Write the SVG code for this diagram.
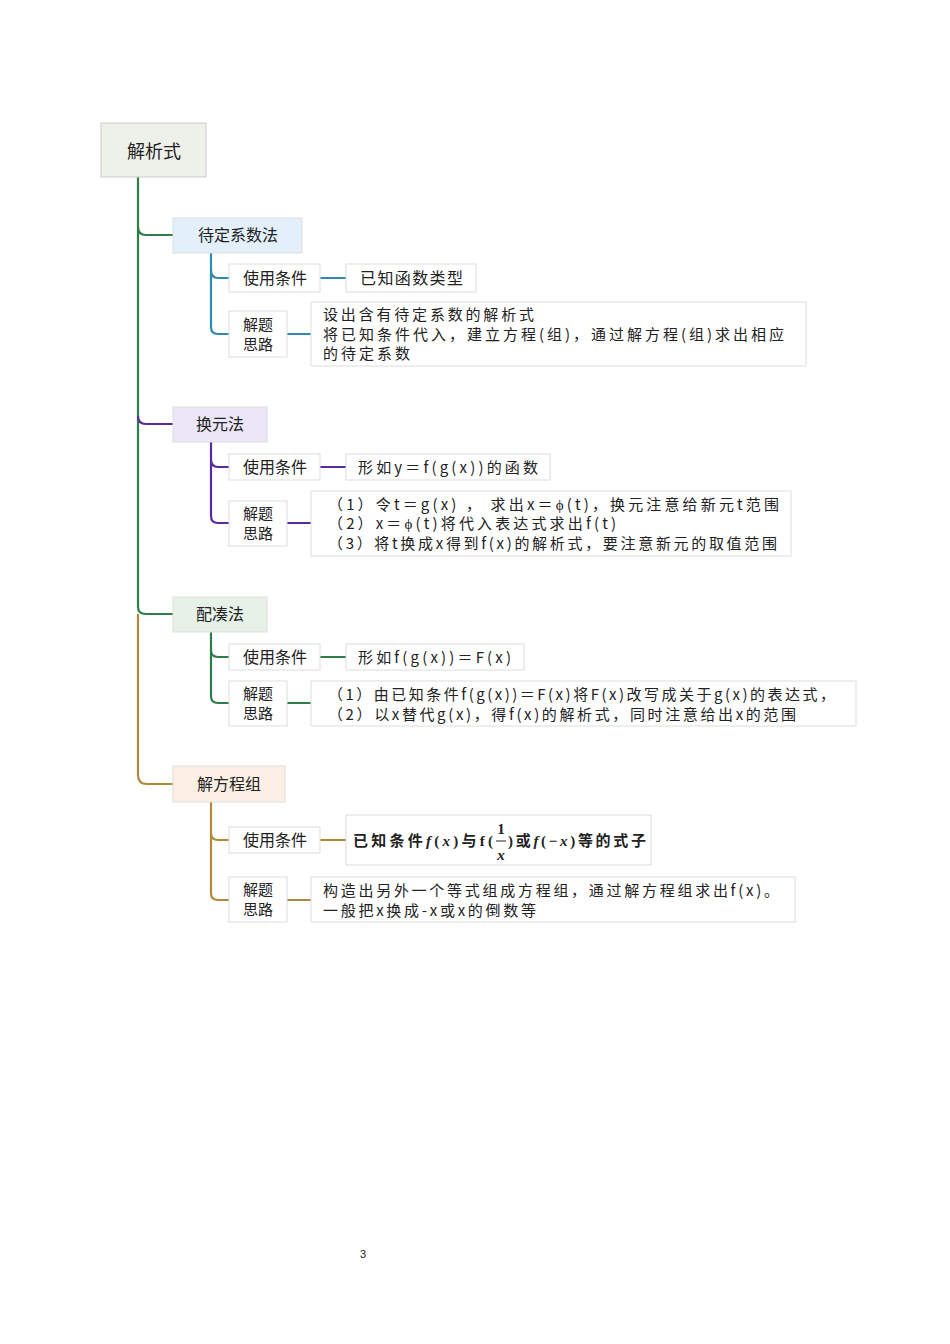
<svg xmlns="http://www.w3.org/2000/svg" width="950" height="1344" viewBox="0 0 950 1344">
<style>
text{font-family:"Noto Sans CJK SC","Liberation Serif",sans-serif;font-size:15px;fill:#222}
.b{fill:#fff;stroke:#ddd;stroke-width:1}
.l{fill:none;stroke-width:2.2}
.bl{stroke:#2e8bb0}.pu{stroke:#5b2a9b}.gr{stroke:#2e7d4a}.br{stroke:#b08a3a}
.m{font-size:15px}
</style>
<rect width="950" height="1344" fill="#fff"/>
<g id="connectors">
<path class="l gr" d="M138 177 V607 Q138 614 146 614 H173"/>
<path class="l gr" d="M138 227 Q138 235 146 235 H173"/>
<path class="l pu" d="M138 416 Q138 424 146 424 H173"/>
<path class="l br" d="M138 614 V775 Q138 784 147 784 H173"/>
<path class="l bl" d="M211 253 V327 Q211 334 218 334 H229 M211 270 Q211 278 218 278 H229 M320 278 H346 M287 334 H311"/>
<path class="l pu" d="M211 442 V516 Q211 523 218 523 H229 M211 459 Q211 467 218 467 H229 M320 467 H346 M287 523 H311"/>
<path class="l gr" d="M211 632 V696 Q211 703 218 703 H229 M211 650 Q211 657 218 657 H229 M320 657 H346 M287 703 H311"/>
<path class="l br" d="M211 802 V893 Q211 900 218 900 H229 M211 833 Q211 840 218 840 H229 M320 840 H346 M287 900 H311"/>
</g>
<g id="root"><rect x="101" y="123" width="105" height="54" fill="#eef0ea" stroke="#ccc"/><text x="154" y="158" text-anchor="middle" style="font-size:18px">解析式</text></g>
<g id="n1"><rect x="173" y="218" width="129" height="35" fill="#e3f0fc" stroke="#ddd"/><text x="238" y="241" text-anchor="middle" style="font-size:16px">待定系数法</text></g>
<g id="n1a"><rect class="b" x="229" y="264" width="91" height="28"/><text x="275" y="284" text-anchor="middle" style="font-size:16px">使用条件</text></g>
<g id="n1b"><rect class="b" x="346" y="264" width="130" height="28"/><text x="360" y="284" textLength="103" lengthAdjust="spacing" style="font-size:16px">已知函数类型</text></g>
<g id="n1c"><rect class="b" x="229" y="311" width="58" height="46"/><text x="258" y="330" text-anchor="middle">解题</text><text x="258" y="350" text-anchor="middle">思路</text></g>
<g id="n1d"><rect class="b" x="311" y="302" width="495" height="64"/><text x="323" y="320" textLength="211" lengthAdjust="spacing">设出含有待定系数的解析式</text><text x="323" y="340" textLength="461" lengthAdjust="spacing">将已知条件代入，建立方程(组)，通过解方程(组)求出相应</text><text x="323" y="359" textLength="87" lengthAdjust="spacing">的待定系数</text></g>
<g id="n2"><rect x="173" y="407" width="94" height="35" fill="#ebe6f8" stroke="#ddd"/><text x="220" y="430" text-anchor="middle" style="font-size:16px">换元法</text></g>
<g id="n2a"><rect class="b" x="229" y="454" width="91" height="26"/><text x="275" y="473" text-anchor="middle" style="font-size:16px">使用条件</text></g>
<g id="n2b"><rect class="b" x="346" y="454" width="204" height="26"/><text x="358" y="473" textLength="180" lengthAdjust="spacing">形如y＝f(g(x))的函数</text></g>
<g id="n2c"><rect class="b" x="229" y="501" width="58" height="45"/><text x="258" y="519" text-anchor="middle">解题</text><text x="258" y="539" text-anchor="middle">思路</text></g>
<g id="n2d"><rect class="b" x="311" y="491" width="480" height="65"/><text x="328" y="510" textLength="451" lengthAdjust="spacing">（1）令t＝g(x) ， 求出x＝ϕ(t)，换元注意给新元t范围</text><text x="328" y="529" textLength="288" lengthAdjust="spacing">（2）x＝ϕ(t)将代入表达式求出f(t)</text><text x="328" y="549" textLength="449" lengthAdjust="spacing">（3）将t换成x得到f(x)的解析式，要注意新元的取值范围</text></g>
<g id="n3"><rect x="173" y="597" width="94" height="35" fill="#e6f1e8" stroke="#ddd"/><text x="220" y="620" text-anchor="middle" style="font-size:16px">配凑法</text></g>
<g id="n3a"><rect class="b" x="229" y="644" width="91" height="26"/><text x="275" y="663" text-anchor="middle" style="font-size:16px">使用条件</text></g>
<g id="n3b"><rect class="b" x="346" y="644" width="178" height="26"/><text x="358" y="663" textLength="153" lengthAdjust="spacing">形如f(g(x))＝F(x)</text></g>
<g id="n3c"><rect class="b" x="229" y="681" width="58" height="45"/><text x="258" y="699" text-anchor="middle">解题</text><text x="258" y="719" text-anchor="middle">思路</text></g>
<g id="n3d"><rect class="b" x="311" y="681" width="545" height="45"/><text x="328" y="700" textLength="507" lengthAdjust="spacing">（1）由已知条件f(g(x))＝F(x)将F(x)改写成关于g(x)的表达式，</text><text x="328" y="720" textLength="468" lengthAdjust="spacing">（2）以x替代g(x)，得f(x)的解析式，同时注意给出x的范围</text></g>
<g id="n4"><rect x="173" y="766" width="112" height="36" fill="#fcefe4" stroke="#ddd"/><text x="229" y="790" text-anchor="middle" style="font-size:16px">解方程组</text></g>
<g id="n4a"><rect class="b" x="229" y="827" width="91" height="26"/><text x="275" y="846" text-anchor="middle" style="font-size:16px">使用条件</text></g>
<g id="n4b"><rect class="b" x="346" y="815" width="305" height="50"/>
<text x="353" y="846" textLength="140" lengthAdjust="spacing" style="font-family:'Liberation Serif','Noto Sans CJK SC',serif;font-weight:bold"><tspan>已知条件</tspan><tspan font-style="italic">f</tspan><tspan>(</tspan><tspan font-style="italic">x</tspan><tspan>)与f(</tspan></text>
<text x="501" y="834" text-anchor="middle" style="font-family:'Liberation Serif',serif;font-weight:bold;font-size:15px">1</text>
<line x1="496" y1="841" x2="506" y2="841" stroke="#222" stroke-width="1"/>
<text x="501" y="860" text-anchor="middle" style="font-family:'Liberation Serif',serif;font-weight:bold;font-style:italic;font-size:15px">x</text>
<text x="508" y="846" textLength="138" lengthAdjust="spacing" style="font-family:'Liberation Serif','Noto Sans CJK SC',serif;font-weight:bold"><tspan>)或</tspan><tspan font-style="italic">f</tspan><tspan>(−</tspan><tspan font-style="italic">x</tspan><tspan>)等的式子</tspan></text></g>
<g id="n4c"><rect class="b" x="229" y="877" width="58" height="45"/><text x="258" y="895" text-anchor="middle">解题</text><text x="258" y="915" text-anchor="middle">思路</text></g>
<g id="n4d"><rect class="b" x="311" y="877" width="484" height="45"/><text x="323" y="896" textLength="456" lengthAdjust="spacing">构造出另外一个等式组成方程组，通过解方程组求出f(x)。</text><text x="323" y="916" textLength="213" lengthAdjust="spacing">一般把x换成-x或x的倒数等</text></g>
<text x="363" y="1258" text-anchor="middle" style="font-family:'Liberation Sans',sans-serif;font-size:11px">3</text>
</svg>
